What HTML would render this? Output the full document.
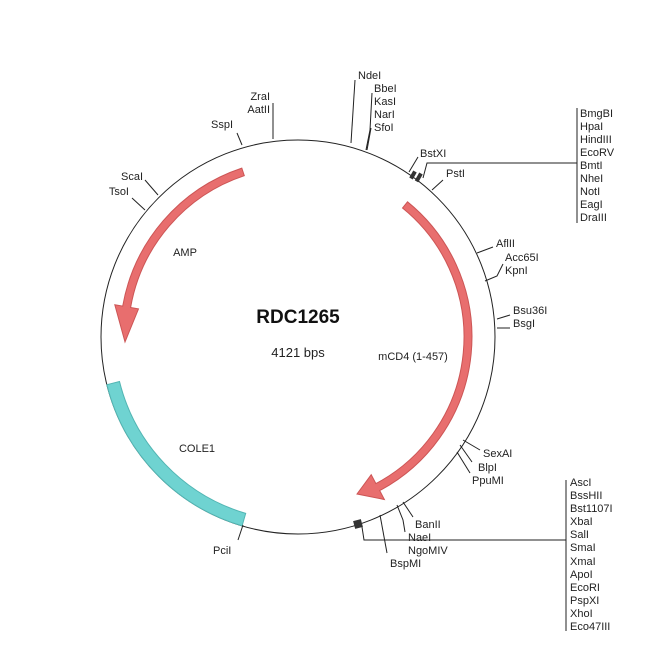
<!DOCTYPE html>
<html><head><meta charset="utf-8"><style>
html,body{margin:0;padding:0;background:#fff;}
svg{display:block;}
text{font-family:"Liberation Sans",Arial,sans-serif;font-size:11px;fill:#222;}
</style></head><body>
<svg width="650" height="650" viewBox="0 0 650 650" xmlns="http://www.w3.org/2000/svg">
<circle cx="298" cy="337" r="197" fill="none" stroke="#222" stroke-width="1"/>
<!-- COLE1 -->
<path d="M106.9,384.7 A197,197 0 0 0 242.1,525.9 L245.7,513.4 A184,184 0 0 1 119.5,381.5 Z" fill="#6fd3d1" stroke="#52b5b3" stroke-width="1"/>
<!-- AMP -->
<path d="M241.8,168.1 A178,178 0 0 0 122.7,306.1 L114.8,304.7 L125,342 L138.5,308.9 L130.6,307.5 A170,170 0 0 1 244.3,175.7 Z" fill="#e86e6e" stroke="#cc5555" stroke-width="1"/>
<!-- mCD4 -->
<path d="M407.5,201.8 A174,174 0 0 1 379.7,490.6 L384.4,499.5 L357,494 L371.2,474.7 L375.9,483.6 A166,166 0 0 0 402.5,208 Z" fill="#e86e6e" stroke="#cc5555" stroke-width="1"/>
<g stroke="#222" stroke-width="1" fill="none">
<line x1="273" y1="139" x2="273" y2="103"/>
<line x1="242" y1="145" x2="237" y2="133"/>
<line x1="158" y1="195" x2="145" y2="180"/>
<line x1="145" y1="210" x2="132" y2="198"/>
<line x1="351" y1="143" x2="355" y2="80"/>
<polyline points="366,150 370,130 372,93"/>
<polyline points="367,150 371,128"/>
<line x1="409" y1="172" x2="418" y2="157"/>
<polyline points="423,178 427,163 577,163"/>
<line x1="577" y1="108" x2="577" y2="223"/>
<line x1="432" y1="190" x2="443" y2="180"/>
<line x1="477" y1="253" x2="493" y2="247"/>
<polyline points="485,281 497,276 503,264"/>
<line x1="497" y1="319" x2="510" y2="315"/>
<line x1="497" y1="328" x2="510" y2="328"/>
<line x1="463" y1="440" x2="480" y2="450"/>
<line x1="460" y1="445" x2="472" y2="462"/>
<line x1="457" y1="452" x2="470" y2="473"/>
<line x1="403" y1="502" x2="413" y2="517"/>
<polyline points="397,505 403,520 405,532"/>
<line x1="380" y1="515" x2="387" y2="553"/>
<polyline points="362,527 364,540 566,540"/>
<line x1="566" y1="480" x2="566" y2="631"/>
<line x1="243" y1="525" x2="238" y2="540"/>
</g>
<!-- hatched markers -->
<g fill="#333"><rect x="411" y="171" width="4" height="8" transform="rotate(30 413 175)"/><rect x="417" y="173" width="4" height="9" transform="rotate(30 419 177)"/>
<rect x="354" y="520" width="8" height="8" transform="rotate(-15 358 524)"/></g>
<g>
<text x="270" y="100" text-anchor="end">ZraI</text>
<text x="270" y="113" text-anchor="end">AatII</text>
<text x="233" y="128" text-anchor="end">SspI</text>
<text x="143" y="180" text-anchor="end">ScaI</text>
<text x="129" y="195" text-anchor="end">TsoI</text>
<text x="358" y="79">NdeI</text>
<text x="374" y="92">BbeI</text>
<text x="374" y="105">KasI</text>
<text x="374" y="118">NarI</text>
<text x="374" y="131">SfoI</text>
<text x="420" y="157">BstXI</text>
<text x="446" y="177">PstI</text>
<text x="580" y="117">BmgBI</text>
<text x="580" y="130">HpaI</text>
<text x="580" y="143">HindIII</text>
<text x="580" y="156">EcoRV</text>
<text x="580" y="169">BmtI</text>
<text x="580" y="182">NheI</text>
<text x="580" y="195">NotI</text>
<text x="580" y="208">EagI</text>
<text x="580" y="221">DraIII</text>
<text x="496" y="247">AflII</text>
<text x="505" y="261">Acc65I</text>
<text x="505" y="274">KpnI</text>
<text x="513" y="314">Bsu36I</text>
<text x="513" y="327">BsgI</text>
<text x="483" y="457">SexAI</text>
<text x="478" y="471">BlpI</text>
<text x="472" y="484">PpuMI</text>
<text x="415" y="528">BanII</text>
<text x="408" y="541">NaeI</text>
<text x="408" y="554">NgoMIV</text>
<text x="390" y="567">BspMI</text>
<text x="213" y="554">PciI</text>
<text x="570" y="486">AscI</text>
<text x="570" y="499">BssHII</text>
<text x="570" y="512">Bst1107I</text>
<text x="570" y="525">XbaI</text>
<text x="570" y="538">SalI</text>
<text x="570" y="551">SmaI</text>
<text x="570" y="565">XmaI</text>
<text x="570" y="578">ApoI</text>
<text x="570" y="591">EcoRI</text>
<text x="570" y="604">PspXI</text>
<text x="570" y="617">XhoI</text>
<text x="570" y="630">Eco47III</text>
<text x="185" y="256" text-anchor="middle">AMP</text>
<text x="413" y="360" text-anchor="middle">mCD4 (1-457)</text>
<text x="197" y="452" text-anchor="middle">COLE1</text>
<text x="298" y="323" text-anchor="middle" style="font-size:19px;font-weight:bold;fill:#111">RDC1265</text>
<text x="298" y="357" text-anchor="middle" style="font-size:13px">4121 bps</text>
</g>
</svg>
</body></html>
